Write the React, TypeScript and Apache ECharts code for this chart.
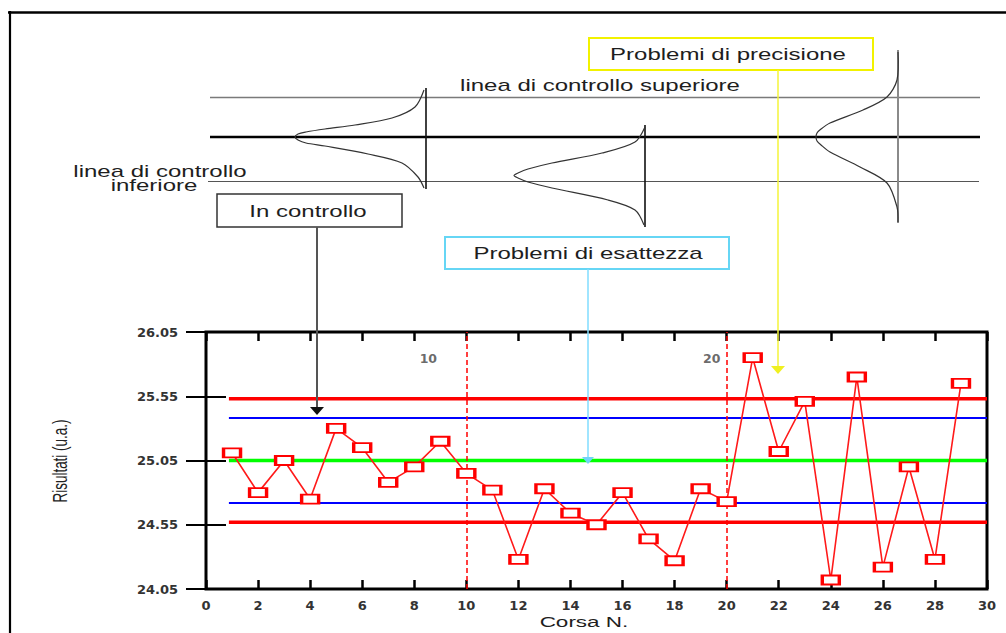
import React, { useEffect, useRef } from "react";
import * as echarts from "echarts";

// ---- data ----
const runs = [1, 2, 3, 4, 5, 6, 7, 8, 9, 10, 11, 12, 13, 14, 15, 16, 17, 18, 19, 20, 21, 22, 23, 24, 25, 26, 27, 28, 29];
const results = [
  25.11, 24.8, 25.05, 24.75, 25.3, 25.15, 24.88, 25.0, 25.2, 24.95,
  24.82, 24.28, 24.83, 24.64, 24.55, 24.8, 24.44, 24.27, 24.83, 24.73,
  25.85, 25.12, 25.51, 24.12, 25.7, 24.22, 25.0, 24.28, 25.65,
];
const limitNames = ["UCL", "UWL", "CL", "LWL", "LCL"];
const limitValues = [25.53, 25.38, 25.05, 24.72, 24.57];
const limitRange = [0.88, 30];
const runDividers = [10, 20];
const dividerLabels = ["10", "20"];
const xRange = [0, 30];
const yRange = [24.05, 26.05];

// ---- styles ----
const limitColors = ["#ff0000", "#0000ff", "#00ff00", "#0000ff", "#ff0000"];
const limitWidths = [3.5, 2, 3.5, 2, 3.5];
const dividerLabelOffsets = [[-38, 26], [-15, 26]];

const TXT_FONT = '"Liberation Sans", Arial, sans-serif';
const AX_FONT = '"DejaVu Sans", sans-serif';

function txt(text: string, x: number, y: number, size = 16, extra: any = {}) {
  return {
    type: "text",
    x,
    y,
    scaleX: 1.5,
    z: 100,
    style: {
      text,
      font: `${size}px ${TXT_FONT}`,
      fill: "#1e1e1e",
      align: "center",
      verticalAlign: "middle",
      textAlign: "center",
      textVerticalAlign: "middle",
    },
    ...extra,
  };
}

function hline(x1: number, x2: number, y: number, color: string, w: number) {
  return { type: "line", z: 100, shape: { x1, y1: y, x2, y2: y }, style: { stroke: color, lineWidth: w } };
}
function vline(x: number, y1: number, y2: number, color: string, w: number) {
  return { type: "line", z: 100, shape: { x1: x, y1, x2: x, y2 }, style: { stroke: color, lineWidth: w } };
}
function curve(points: number[][]) {
  return {
    type: "polyline",
    z: 100,
    shape: { points, smooth: 0.3 },
    style: { stroke: "#333", lineWidth: 1.2, fill: "none" },
  };
}
function box(x: number, y: number, w: number, h: number, color: string, lw: number) {
  return { type: "rect", z: 100, shape: { x, y, width: w, height: h }, style: { stroke: color, lineWidth: lw, fill: "none" } };
}
function arrow(x: number, yTop: number, yTip: number, halfW: number, color: string) {
  return {
    type: "polygon",
    z: 100,
    shape: { points: [[x - halfW, yTop], [x + halfW, yTop], [x, yTip]] },
    style: { fill: color },
  };
}

export default function App() {
  const ref = useRef<HTMLDivElement>(null);

  useEffect(() => {
    if (!ref.current) return;
    const chart = echarts.init(ref.current, null, { renderer: "svg" });

    const axisLabelStyle = {
      fontFamily: AX_FONT,
      fontSize: 13,
      fontWeight: "bold",
      color: "#333",
    };

    const limitSeries = limitValues.map((v, i) => ({
      name: limitNames[i],
      type: "line",
      data: [[limitRange[0], v], [limitRange[1], v]],
      symbol: "none",
      silent: true,
      z: 2,
      lineStyle: { color: limitColors[i], width: limitWidths[i] },
    }));

    const option: any = {
      animation: false,
      backgroundColor: "#ffffff",
      grid: {
        left: 206,
        top: 332,
        width: 781,
        height: 257,
        show: true,
        borderColor: "#000",
        borderWidth: 3,
        backgroundColor: "transparent",
        containLabel: false,
      },
      xAxis: [
        {
          type: "value",
          min: xRange[0],
          max: xRange[1],
          interval: 2,
          position: "bottom",
          axisLine: { show: false },
          axisTick: { show: true, inside: true, length: 9, lineStyle: { color: "#000", width: 2.5 } },
          axisLabel: { ...axisLabelStyle, margin: 10, showMinLabel: true, showMaxLabel: true },
          splitLine: { show: false },
        },
        {
          type: "value",
          min: xRange[0],
          max: xRange[1],
          interval: 2,
          position: "top",
          axisLine: { show: false },
          axisTick: { show: true, inside: true, length: 9, lineStyle: { color: "#000", width: 2.5 } },
          axisLabel: { show: false },
          splitLine: { show: false },
        },
      ],
      yAxis: [
        {
          type: "value",
          min: yRange[0],
          max: yRange[1],
          interval: 0.5,
          position: "left",
          axisLine: { show: false },
          axisTick: { show: true, inside: true, length: 20, lineStyle: { color: "#000", width: 2 } },
          axisLabel: {
            ...axisLabelStyle,
            margin: 28,
            showMinLabel: true,
            showMaxLabel: true,
            formatter: (v: number) => v.toFixed(2),
          },
          splitLine: { show: false },
        },
        {
          type: "value",
          min: yRange[0],
          max: yRange[1],
          interval: 0.5,
          position: "right",
          axisLine: { show: false },
          axisTick: { show: true, inside: true, length: 20, lineStyle: { color: "#000", width: 2 } },
          axisLabel: { show: false },
          splitLine: { show: false },
        },
      ],
      series: [
        ...limitSeries,
        {
          name: "dividers",
          type: "line",
          data: [],
          silent: true,
          markLine: {
            silent: true,
            symbol: ["none", "none"],
            label: { show: false },
            lineStyle: { color: "#ff0000", width: 1.5, type: [5, 3] },
            data: runDividers.map((d) => ({ xAxis: d })),
          },
        },
        {
          name: "dividerLabels",
          type: "scatter",
          symbolSize: 0,
          silent: true,
          data: runDividers.map((d, i) => ({
            value: [d, yRange[1]],
            name: dividerLabels[i],
            label: { offset: dividerLabelOffsets[i] },
          })),
          label: {
            show: true,
            position: "inside",
            formatter: (p: any) => p.name,
            fontFamily: AX_FONT,
            fontSize: 12.5,
            fontWeight: "bold",
            color: "#444",
          },
        },
        {
          name: "Risultati",
          type: "line",
          z: 5,
          data: runs.map((r, i) => [r, results[i]]),
          symbol: "rect",
          symbolSize: [17, 9],
          itemStyle: { color: "#ffffff", borderColor: "#ff0000", borderWidth: 2.5 },
          lineStyle: { color: "#ff1a1a", width: 1.6 },
        },
      ],
      graphic: [
        // outer frame
        hline(8, 1006, 12.5, "#000", 2.5),
        vline(10, 11, 633, "#000", 2.2),
        // reference lines of the illustration
        hline(210, 980, 97.5, "#7a7a7a", 1.3),
        hline(210, 980, 137, "#000", 2.4),
        hline(208, 979, 181.5, "#555", 1.1),
        // gaussian sketches
        vline(426, 88, 189, "#111", 1.6),
        curve([
          [424, 90], [415, 107], [392, 118], [355, 125], [325, 129], [306, 132], [298, 134], [295, 137],
          [298, 140], [306, 143], [325, 146], [368, 154], [402, 163], [418, 177], [424, 188],
        ]),
        vline(645, 125, 227, "#111", 1.6),
        curve([
          [645, 127], [635, 142], [602, 153], [552, 163], [528, 169], [518, 173], [514, 175.5],
          [518, 178], [528, 182], [552, 188], [608, 200], [635, 210], [644, 225],
        ]),
        vline(898, 50, 223, "#8a8a8a", 2),
        curve([
          [898, 52], [897, 80], [887, 97], [863, 110], [830, 123], [821, 129], [817, 133], [816, 137],
          [817, 141], [821, 145], [830, 152], [860, 167], [887, 183], [897, 207], [898, 222],
        ]),
        // texts of the illustration
        txt("linea di controllo superiore", 600, 86),
        txt("linea di controllo", 160, 172),
        txt("inferiore", 154, 186),
        // "Problemi di precisione"
        box(589, 38, 284, 32, "#f2f200", 2),
        txt("Problemi di precisione", 728, 55),
        vline(778, 70, 367, "#f5f53a", 1.5),
        arrow(778, 366, 374, 7, "#f0f020"),
        // "In controllo"
        box(217, 194, 185, 33, "#333", 1.5),
        txt("In controllo", 308, 212),
        vline(317, 227, 408, "#555", 2),
        arrow(317, 407, 415, 7, "#111"),
        // "Problemi di esattezza"
        box(445, 237, 284, 32, "#66d6f5", 2),
        txt("Problemi di esattezza", 588, 254),
        vline(588, 269, 458, "#80dcff", 1.5),
        arrow(588, 457, 464, 6, "#70d4f8"),
        // axis titles
        txt("Corsa N.", 584, 622, 15),
        {
          type: "text",
          x: 60,
          y: 461,
          rotation: Math.PI / 2,
          scaleY: 1.5,
          z: 100,
          style: {
            text: "Risultati (u.a.)",
            font: `13.5px ${TXT_FONT}`,
            fill: "#222",
            align: "center",
            verticalAlign: "middle",
            textAlign: "center",
            textVerticalAlign: "middle",
          },
        },
      ],
    };

    chart.setOption(option);
    return () => chart.dispose();
  }, []);

  return (
    <div
      ref={ref}
      style={{ position: "fixed", left: 0, top: 0, width: 1006, height: 633, background: "#fff" }}
    />
  );
}
